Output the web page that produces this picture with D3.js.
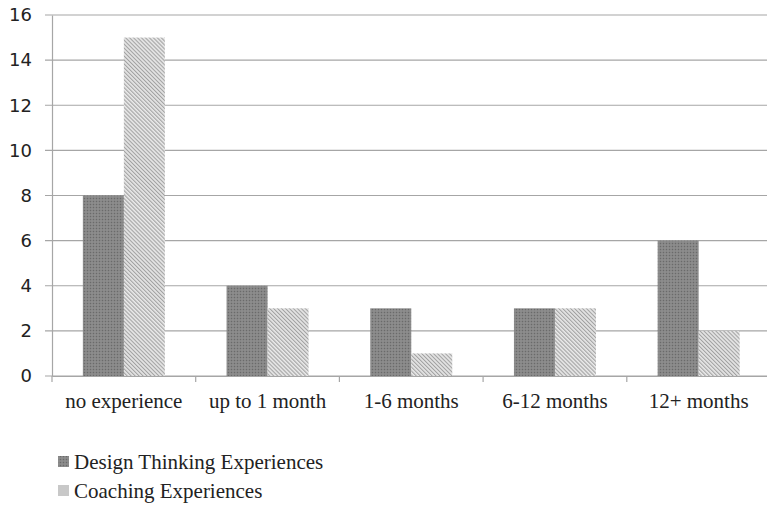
<!DOCTYPE html>
<html><head><meta charset="utf-8">
<script src="https://cdn.jsdelivr.net/npm/d3@7"></script>
<style>body{margin:0;background:#fff}svg{display:block}</style>
</head><body>
<svg id="c" width="767" height="505"></svg>
<script>
const categories = ["no experience","up to 1 month","1-6 months","6-12 months","12+ months"];
const seriesNames = ["Design Thinking Experiences","Coaching Experiences"];
const designThinking = [8,4,3,3,6];
const coaching = [15,3,1,3,2];
const yTicks = [0,2,4,6,8,10,12,14,16];

(function(){
const svg = d3.select("#c");
const defs = svg.append("defs");
const p1 = defs.append("pattern").attr("id","dots").attr("patternUnits","userSpaceOnUse").attr("width",3).attr("height",3);
p1.append("rect").attr("width",3).attr("height",3).attr("fill","#858585");
p1.append("rect").attr("width",1).attr("height",1).attr("fill","#6a6a6a");
p1.append("rect").attr("x",1.5).attr("y",1.5).attr("width",1).attr("height",1).attr("fill","#a0a0a0");
const p2 = defs.append("pattern").attr("id","hatch").attr("patternUnits","userSpaceOnUse").attr("width",2.8).attr("height",4).attr("patternTransform","rotate(-45)");
p2.append("rect").attr("width",2.8).attr("height",4).attr("fill","#e8e8e8");
p2.append("rect").attr("width",1.1).attr("height",4).attr("fill","#a2a2a2");

const mLeft = 52, mRight = 770.5, mTop = 15, mBottom = 376;
const xb = d3.scaleBand().domain(categories).range([mLeft,mRight]);
const y = d3.scaleLinear().domain([0,16]).range([mBottom,mTop]);
const bw = 41;
const inner = d3.scaleBand().domain([0,1]).range([0,2*bw]);

// gridlines
svg.append("g").selectAll("line").data(yTicks).join("line")
  .attr("x1",45).attr("x2",mRight).attr("y1",d=>y(d)).attr("y2",d=>y(d))
  .attr("stroke","#a6a6a6").attr("stroke-width",1.2);

// y axis
const ya = svg.append("g").attr("transform",`translate(${mLeft},0)`)
  .call(d3.axisLeft(y).tickValues(yTicks).tickSize(0).tickPadding(20));
ya.select(".domain").attr("stroke","#a6a6a6").attr("stroke-width",1.2);
ya.selectAll("text").attr("font-family","Verdana, 'DejaVu Sans', sans-serif").attr("font-size",18).attr("fill","#222");

// bars
const data = categories.map((c,i)=>({c, v:[designThinking[i],coaching[i]]}));
const g = svg.append("g");
data.forEach(d=>{
  const x0 = xb(d.c) + (xb.bandwidth()-2*bw)/2;
  d.v.forEach((v,j)=>{
    g.append("rect").attr("x",x0+inner(j)).attr("width",inner.bandwidth())
      .attr("y",y(v)).attr("height",y(0)-y(v))
      .attr("fill", j===0?"url(#dots)":"url(#hatch)");
  });
});

// x axis
const xa = svg.append("g").attr("transform",`translate(0,${mBottom})`)
  .call(d3.axisBottom(xb).tickSize(0).tickPadding(17));
xa.select(".domain").attr("stroke","#a6a6a6").attr("stroke-width",1.2);
xa.selectAll("text").attr("font-family","'Liberation Serif','Times New Roman',serif").attr("font-size",21).attr("fill","#222");
const bounds = categories.map(c=>xb(c)).concat([mRight]);
svg.append("g").selectAll("line").data(bounds).join("line")
  .attr("x1",d=>d).attr("x2",d=>d).attr("y1",mBottom).attr("y2",mBottom+6)
  .attr("stroke","#a6a6a6").attr("stroke-width",1.2);

// legend
const lg = svg.append("g");
seriesNames.forEach((n,i)=>{
  const yy = 456 + i*29;
  lg.append("rect").attr("x",58).attr("y",yy).attr("width",11).attr("height",11)
    .attr("fill", i===0?"url(#dots)":"#c8c8c8");
  lg.append("text").attr("x",74).attr("y",469 + i*29).text(n)
    .attr("font-family","'Liberation Serif','Times New Roman',serif").attr("font-size",21).attr("fill","#222");
});
})();
</script>
</body></html>
